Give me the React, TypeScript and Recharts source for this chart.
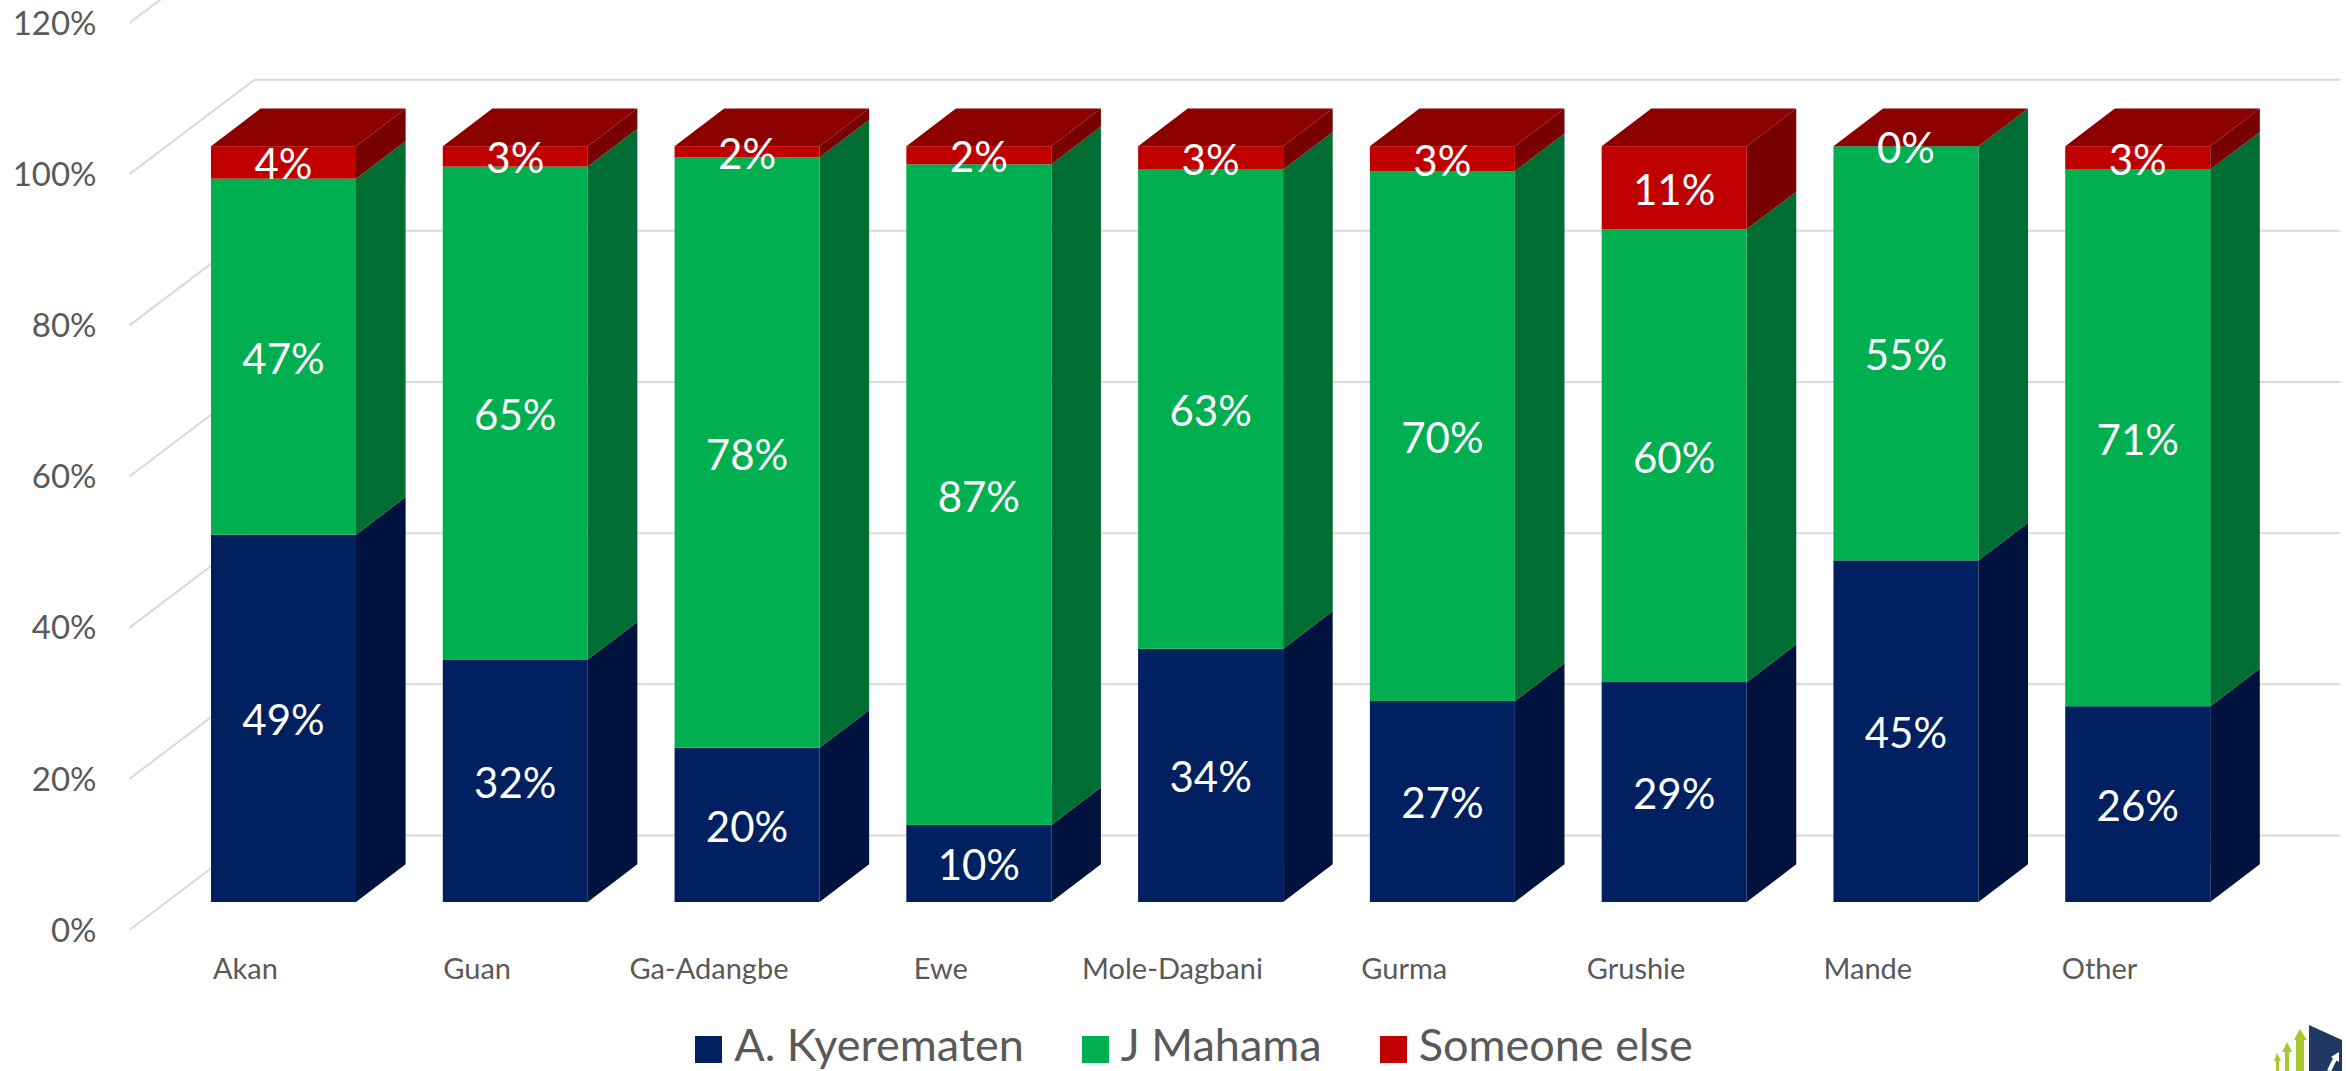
import React from 'react'
import { BarChart, Bar, XAxis, YAxis, CartesianGrid, Legend, LabelList } from 'recharts'

const CATEGORIES = ['Akan', 'Guan', 'Ga-Adangbe', 'Ewe', 'Mole-Dagbani', 'Gurma', 'Grushie', 'Mande', 'Other']
const KYEREMATEN = [48.6, 32.1, 20.4, 10.2, 33.5, 26.6, 29.1, 45.2, 25.9]
const MAHAMA = [47.1, 65.2, 78.1, 87.4, 63.4, 70.1, 59.9, 54.8, 71]
const SOMEONE_ELSE = [4.3, 2.7, 1.5, 2.4, 3.1, 3.3, 11, 0, 3.1]
const Y_TICKS = [0, 20, 40, 60, 80, 100, 120]

const data = CATEGORIES.map((name, i) => ({
  name,
  kyerematen: KYEREMATEN[i],
  mahama: MAHAMA[i],
  other: SOMEONE_ELSE[i],
}))

const FONT = 'Lato, sans-serif'
const TEXT = '#595959'

// fake 3D: the axis sits on the front plane, bars in the middle, wall at the back
const WALL_DX = 125
const WALL_DY = 94.5
const BAR_DX = 38.5
const BAR_DY = 28
const DEPTH_DX = 49.6
const DEPTH_DY = 37.7

const GridLine = ({ x1, y1, x2 }: any) => (
  <polyline
    points={`${x1},${y1} ${x1 + WALL_DX},${y1 - WALL_DY} ${x2 + WALL_DX},${y1 - WALL_DY}`}
    fill="none"
    stroke="#d9d9d9"
    strokeWidth={2}
  />
)

const box3d = (side: string, top?: string) => (props: any) => {
  const { x, y, width, height, fill } = props
  const left = x + BAR_DX
  const right = left + width
  const up = y - BAR_DY
  const down = up + height
  return (
    <g>
      {height > 0 && (
        <polygon
          points={`${right},${up} ${right + DEPTH_DX},${up - DEPTH_DY} ${right + DEPTH_DX},${down - DEPTH_DY} ${right},${down}`}
          fill={side}
        />
      )}
      {top && (
        <polygon
          points={`${left},${up} ${left + DEPTH_DX},${up - DEPTH_DY} ${right + DEPTH_DX},${up - DEPTH_DY} ${right},${up}`}
          fill={top}
        />
      )}
      <rect x={left} y={up} width={width} height={height} fill={fill} />
    </g>
  )
}

const barLabel = (props: any) => {
  const { x, y, width, height, value } = props
  return (
    <text
      x={x + BAR_DX + width / 2}
      y={y - BAR_DY + height / 2 + 1}
      textAnchor="middle"
      dominantBaseline="central"
      fill="#fff"
      fontSize={42}
      fontFamily={FONT}
    >
      {Math.round(value)}%
    </text>
  )
}

const LegendRow = ({ payload }: any) => (
  <div style={{ display: 'flex', justifyContent: 'center', gap: 58, paddingLeft: 42, fontFamily: FONT, fontSize: 45, lineHeight: '44px', color: TEXT }}>
    {(payload || []).map((p: any) => (
      <div key={p.value} style={{ display: 'flex', alignItems: 'center', gap: 12 }}>
        <span style={{ width: 27, height: 27, background: p.color, display: 'inline-block' }} />
        <span style={{ position: 'relative', top: -5 }}>{p.value}</span>
      </div>
    ))}
  </div>
)

const Logo = () => (
  <svg width={86} height={60} viewBox="0 0 86 60" style={{ position: 'absolute', left: 2260, top: 1011 }}>
    <polygon points="16,60 16,50 14,50 17,42 21,50 19,50 19,60" fill="#a8c92b" />
    <polygon points="25,60 25,41 22,41 27,31 32,41 29,41 29,60" fill="#a8c92b" />
    <polygon points="36,60 36,29 34,29 40,18 47,29 44,29 44,60" fill="#a8c92b" />
    <polygon points="49,14 82,29 82,60 49,60" fill="#1f3864" />
    <polyline points="69,60 76,46" stroke="#fff" strokeWidth={4} fill="none" />
    <polygon points="79,41 79,51 71,46" fill="#fff" />
  </svg>
)

export default function App() {
  return (
    <div style={{ position: 'absolute', left: 0, top: 0, width: 2346, height: 1071, overflow: 'hidden', background: '#fff' }}>
      <BarChart
        width={2346}
        height={1071}
        data={data}
        margin={{ top: 23, right: 130.5, bottom: 0, left: 9.5 }}
        barCategoryGap={0}
      >
        <CartesianGrid vertical={false} horizontal={(p: any) => <GridLine key={p.index} {...p} />} />
        <XAxis
          dataKey="name"
          axisLine={false}
          tickLine={false}
          height={97}
          interval={0}
          tickMargin={22}
          tick={{ fontSize: 29, fill: TEXT, fontFamily: FONT }}
        />
        <YAxis
          width={120}
          domain={[0, 120]}
          ticks={Y_TICKS}
          axisLine={false}
          tickLine={false}
          tickMargin={27}
          tickFormatter={(v: number) => v + '%'}
          tick={{ fontSize: 33, fill: TEXT, fontFamily: FONT }}
        />
        <Legend
          verticalAlign="bottom"
          content={<LegendRow />}
          wrapperStyle={{ left: 0, width: 2346, top: 1027 }}
        />
        <Bar dataKey="kyerematen" name="A. Kyerematen" stackId="a" fill="#002060" barSize={145} shape={box3d('#00133f')} isAnimationActive={false}>
          <LabelList dataKey="kyerematen" content={barLabel} />
        </Bar>
        <Bar dataKey="mahama" name="J Mahama" stackId="a" fill="#00b050" barSize={145} shape={box3d('#006e33')} isAnimationActive={false}>
          <LabelList dataKey="mahama" content={barLabel} />
        </Bar>
        <Bar dataKey="other" name="Someone else" stackId="a" fill="#c00000" barSize={145} shape={box3d('#780000', '#8c0000')} isAnimationActive={false}>
          <LabelList dataKey="other" content={barLabel} />
        </Bar>
      </BarChart>
      <Logo />
    </div>
  )
}
